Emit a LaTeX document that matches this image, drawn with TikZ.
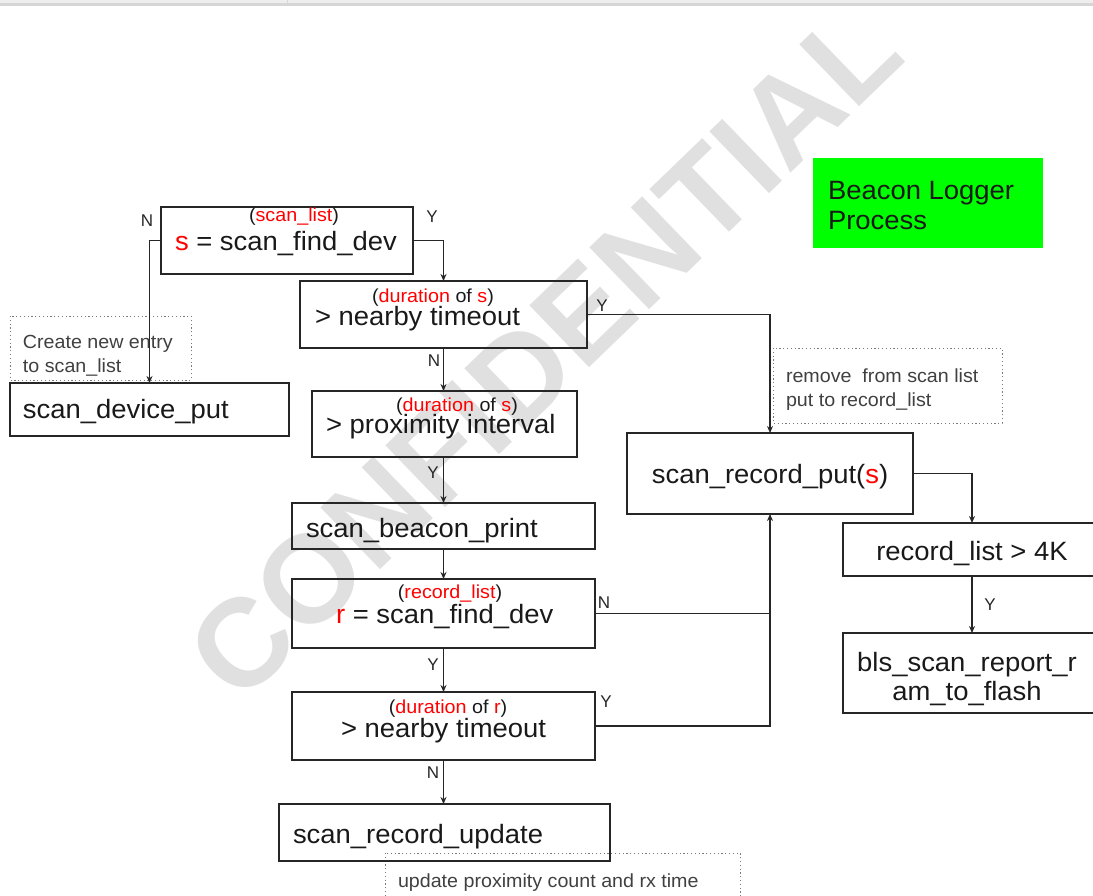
\documentclass[tikz,border=0pt]{standalone}
\usepackage{fontspec}
\setmainfont{Liberation Sans}
\newfontfamily\boxfont[FakeStretch=1.035]{Liberation Sans}
\newfontfamily\smallfont[FakeStretch=1.05]{Liberation Sans}
\usetikzlibrary{arrows.meta}
\definecolor{lblred}{HTML}{FF0000}
\definecolor{procgreen}{HTML}{00FF00}
\definecolor{notegray}{HTML}{7A7A7A}
\definecolor{markgray}{HTML}{E0E0E0}
\definecolor{linegray}{HTML}{262626}
\definecolor{barlight}{HTML}{EEEEEE}
\definecolor{bardark}{HTML}{D6D6D6}
\newcommand{\bigtxt}{\boxfont\fontsize{26.5}{30}\selectfont}
\newcommand{\smalltxt}{\smallfont\fontsize{18.8}{22}\selectfont}
\newcommand{\notetxt}{\boxfont\fontsize{19}{24}\selectfont}
\newcommand{\yntxt}{\fontsize{17}{20}\selectfont}
\newcommand{\redtxt}[1]{\textcolor{lblred}{#1}}
\begin{document}
\begin{tikzpicture}[x=1pt,y=-1pt,
  box/.style={draw=linegray, line width=1.6pt, inner sep=0pt, outer sep=0pt},
  notebox/.style={draw=notegray, line width=1pt, dash pattern=on 1.2pt off 2.6pt},
  txt/.style={inner sep=0pt, outer sep=0pt, text=black!90},
  yn/.style={inner sep=0pt, font=\yntxt, text=black!85},
  arr/.style={draw=linegray, line width=1.3pt, -{Stealth[length=7pt,width=6pt]}},
  wire/.style={draw=linegray, line width=1.3pt}]
\useasboundingbox (0,0) rectangle (1093,896);
\clip (0,0) rectangle (1093,896);

% window frame strip along the top
\fill[barlight] (0,0) rectangle (1093,3.3);
\fill[bardark] (0,3.3) rectangle (1093,5.8);
\draw[bardark, line width=1pt] (287.5,0) -- (287.5,3.3);

% watermark
\node[rotate=44, text=markgray, inner sep=0pt,
      font={\fontsize{125}{127}\selectfont\bfseries}] (mark) at (544,352) {CONFIDENTIAL};

% process title
\node[fill=procgreen, minimum width=230pt, minimum height=90pt, inner sep=0pt] (title) at (928,203) {};
\node[txt, anchor=base west] (titlea) at (828,200) {\bigtxt Beacon Logger};
\node[txt, anchor=base west] (titleb) at (828,230) {\bigtxt Process};

% notes
\draw[notebox] (10,316) rectangle (191,380);
\node[txt, anchor=base west, text=black!75] (n1a) at (23,348) {\notetxt Create new entry};
\node[txt, anchor=base west, text=black!75] (n1b) at (23,372) {\notetxt to scan\_list};
\draw[notebox] (773,348) rectangle (1002,423);
\node[txt, anchor=base west, text=black!75] (n2a) at (786,382) {\notetxt remove\ \ from scan list};
\node[txt, anchor=base west, text=black!75] (n2b) at (786,406) {\notetxt put to record\_list};
\draw[notebox] (385,853) rectangle (740,910);
\node[txt, anchor=base west, text=black!75] (n3) at (398,887) {\notetxt update proximity count and rx time};

% boxes
\node[box, minimum width=252pt, minimum height=67pt] (find1) at (287,240.5) {};
\node[box, minimum width=287pt, minimum height=67pt] (tmo1) at (443.5,314.5) {};
\node[box, minimum width=265pt, minimum height=66pt] (prox) at (444.5,424) {};
\node[box, minimum width=303pt, minimum height=46pt] (print) at (443.5,526) {};
\node[box, minimum width=303pt, minimum height=69pt] (find2) at (443.5,613.5) {};
\node[box, minimum width=303pt, minimum height=68pt] (tmo2) at (443.5,726) {};
\node[box, minimum width=331pt, minimum height=57pt] (update) at (444.5,832.5) {};
\node[box, minimum width=279pt, minimum height=53pt] (devput) at (149.5,409.5) {};
\node[box, minimum width=286pt, minimum height=81pt] (recput) at (770,473.5) {};
\node[box, minimum width=258pt, minimum height=53pt] (rec4k) at (972,549.5) {};
\node[box, minimum width=258pt, minimum height=80pt] (bls) at (972,673) {};

% box texts
\node[txt, anchor=base] (find1s) at (294,222) {\smalltxt(\redtxt{scan\_list})};
\node[txt, anchor=base west] (find1m) at (175,251) {\bigtxt\redtxt{s} = scan\_find\_dev};
\node[txt, anchor=base] (tmo1s) at (433,302) {\smalltxt(\redtxt{duration} of \redtxt{s})};
\node[txt, anchor=base west] (tmo1m) at (315,325) {\bigtxt > nearby timeout};
\node[txt, anchor=base] (proxs) at (457,411) {\smalltxt(\redtxt{duration} of \redtxt{s})};
\node[txt, anchor=base west] (proxm) at (326,433) {\bigtxt > proximity interval};
\node[txt, anchor=base west] (printm) at (306,537) {\bigtxt scan\_beacon\_print};
\node[txt, anchor=base] (find2s) at (450,598) {\smalltxt(\redtxt{record\_list})};
\node[txt, anchor=base west] (find2m) at (336,623) {\bigtxt\redtxt{r} = scan\_find\_dev};
\node[txt, anchor=base] (tmo2s) at (448,713) {\smalltxt(\redtxt{duration} of \redtxt{r})};
\node[txt, anchor=base west] (tmo2m) at (341,737) {\bigtxt > nearby timeout};
\node[txt, anchor=base west] (updatem) at (293,843) {\bigtxt scan\_record\_update};
\node[txt, anchor=base west] (devputm) at (23,418) {\bigtxt scan\_device\_put};
\node[txt, anchor=base] (recputm) at (770,483) {\bigtxt scan\_record\_put(\redtxt{s})};
\node[txt, anchor=base] (rec4km) at (972,560) {\bigtxt record\_list > 4K};
\node[txt, anchor=base] (blsa) at (967,671) {\bigtxt bls\_scan\_report\_r};
\node[txt, anchor=base] (blsb) at (967,700) {\bigtxt am\_to\_flash};

% connectors
\draw[arr] (find1.west) -| (devput.north);
\draw[arr] (find1.east) -| (tmo1.north);
\draw[arr] (tmo1.east) -| (recput.north);
\draw[arr] (tmo1.south) -- (tmo1.south |- prox.north);
\draw[arr] (prox.south -| print.north) -- (print.north);
\draw[arr] (print.south) -- (find2.north);
\draw[arr] (find2.south) -- (tmo2.north);
\draw[arr] (tmo2.south) -- (tmo2.south |- update.north);
\draw[wire] (find2.east) -- (find2.east -| recput.south);
\draw[arr] (tmo2.east) -| (recput.south);
\draw[arr] (recput.east) -| (rec4k.north);
\draw[arr] (rec4k.south) -- (bls.north);

% branch labels
\node[yn] (l1) at (147,221) {N};
\node[yn] (l2) at (432,217) {Y};
\node[yn] (l3) at (602,306) {Y};
\node[yn] (l4) at (434,361) {N};
\node[yn] (l5) at (433,473) {Y};
\node[yn] (l6) at (604,603) {N};
\node[yn] (l7) at (433,665) {Y};
\node[yn] (l8) at (606,702) {Y};
\node[yn] (l9) at (433,773) {N};
\node[yn] (l10) at (990,605) {Y};
\end{tikzpicture}
\end{document}
